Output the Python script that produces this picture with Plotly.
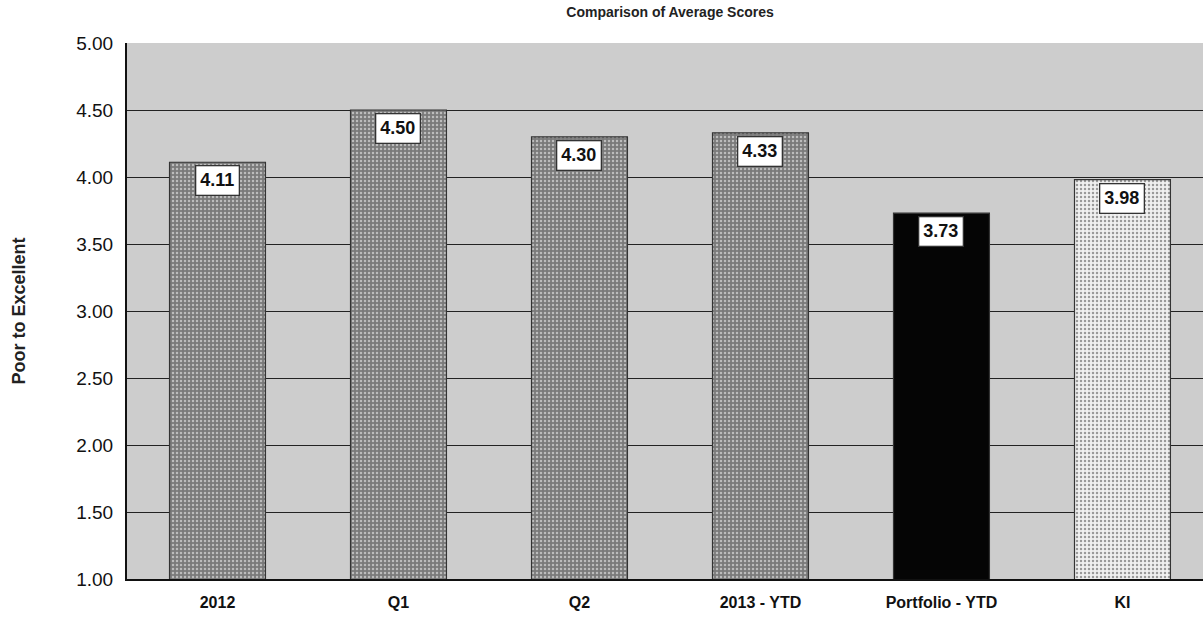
import plotly.graph_objects as go

categories = ["2012", "Q1", "Q2", "2013 - YTD", "Portfolio - YTD", "KI"]
scores = [4.11, 4.50, 4.30, 4.33, 3.73, 3.98]
bar_colors = ["#7a7a7a", "#7a7a7a", "#7a7a7a", "#7a7a7a", "#050505", "#f0f0f0"]
y_ticks = [1.0, 1.5, 2.0, 2.5, 3.0, 3.5, 4.0, 4.5, 5.0]

FONT = "Arial, Liberation Sans, sans-serif"

fig = go.Figure()
fig.add_trace(go.Bar(
    x=categories,
    y=scores,
    base=0,
    width=0.53,
    marker=dict(
        color=bar_colors,
        line=dict(color="#333333", width=1.2),
        pattern=dict(shape=[".", ".", ".", ".", "", "."], size=4, solidity=0.3,
                     fgcolor=["#444444"] * 4 + ["#050505", "#c4c4c4"]),
    ),
    hoverinfo="skip",
))

# value boxes sitting just under each bar top
for i, val in enumerate(scores):
    fig.add_annotation(
        x=i, y=val, text=f"<b>{val:.2f}</b>", showarrow=False,
        yanchor="top", yshift=-3,
        font=dict(family=FONT, size=18, color="#111111"),
        bgcolor="#ffffff", bordercolor="#333333", borderwidth=1.3, borderpad=4,
    )

fig.update_layout(
    width=1203, height=625,
    margin=dict(l=127, r=0, t=43, b=46),
    paper_bgcolor="#ffffff",
    plot_bgcolor="#cdcdcd",
    showlegend=False,
    title=dict(text="<b>Comparison of Average Scores</b>", x=0.557, xanchor="center",
               y=0.988, yanchor="top",
               font=dict(family=FONT, size=14, color="#222222")),
    xaxis=dict(
        type="category",
        range=[-0.5, 5.445], showgrid=False, ticks="",
        tickfont=dict(family=FONT, size=16, color="#111111"),
        tickprefix="<b>", ticksuffix="</b>",
        ticklabelstandoff=8,
        showline=True, linecolor="#111111", linewidth=2,
    ),
    yaxis=dict(
        range=[1.0, 5.0], tickvals=y_ticks, ticktext=[f"{v:.2f}" for v in y_ticks],
        showgrid=True, gridcolor="#222222", gridwidth=1.3,
        tickfont=dict(family=FONT, size=19, color="#111111"),
        ticklabelstandoff=8,
        showline=True, linecolor="#111111", linewidth=2, ticks="",
        title=dict(text="<b>Poor to Excellent</b>", standoff=46,
                   font=dict(family=FONT, size=18, color="#222222")),
        zeroline=False,
    ),
)

fig.write_html("out.html")
